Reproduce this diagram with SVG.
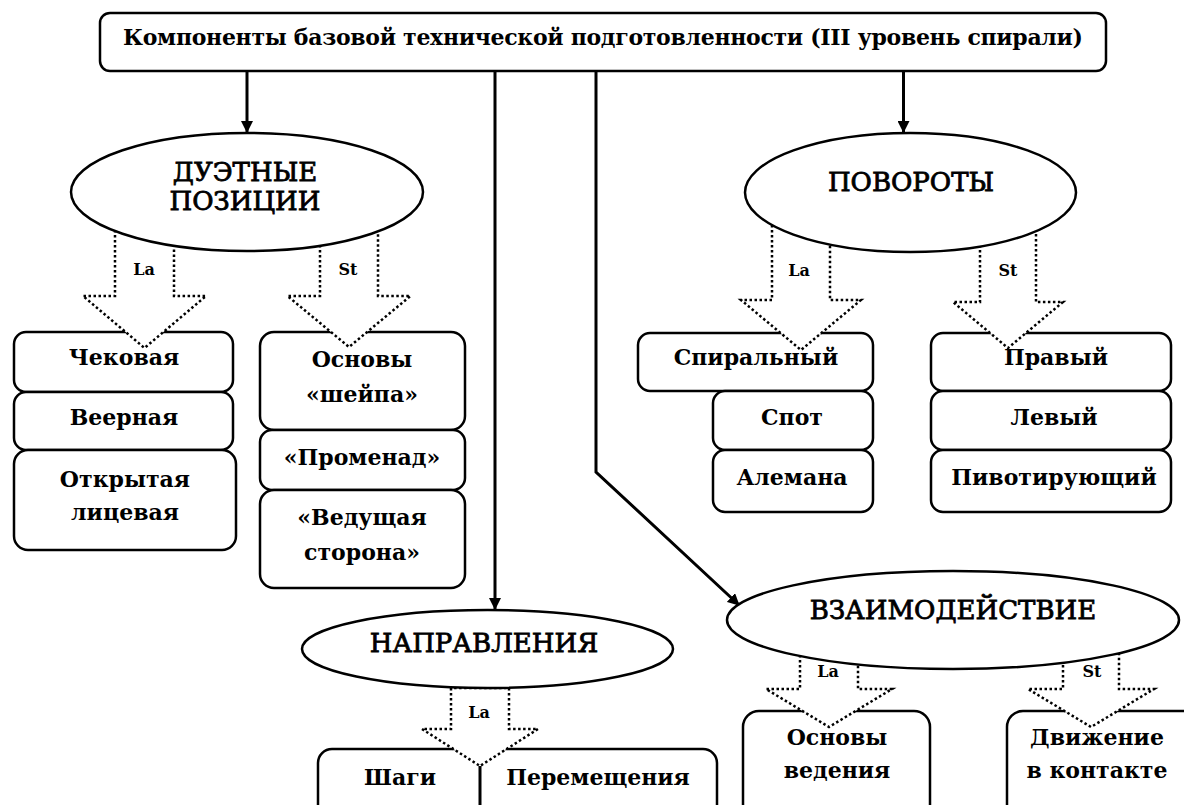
<svg xmlns="http://www.w3.org/2000/svg" width="1184" height="805" viewBox="0 0 1184 805">
<defs>
<marker id="ah" viewBox="0 0 12 12" refX="11" refY="6" markerWidth="12" markerHeight="12" markerUnits="userSpaceOnUse" orient="auto">
<path d="M0,0 L12,6 L0,12 Z" fill="#000"/>
</marker>
</defs>
<style>
.box{fill:#fff;stroke:#000;stroke-width:2.5}
.ell{fill:#fff;stroke:#000;stroke-width:2.5}
.con{fill:none;stroke:#000;stroke-width:3}
.dot{fill:#fff;stroke:#000;stroke-width:2.5;stroke-dasharray:2.5 2.5}
.t{font-family:"DejaVu Serif","Liberation Serif",serif;font-weight:bold;font-size:22px;text-anchor:middle;fill:#000}
.e{font-family:"DejaVu Serif","Liberation Serif",serif;font-size:26px;text-anchor:middle;fill:#000;stroke:#000;stroke-width:0.8}
.l{font-family:"DejaVu Serif","Liberation Serif",serif;font-weight:bold;font-size:16px;text-anchor:middle;fill:#000}
</style>
<rect width="1184" height="805" fill="#fff"/>

<g id="connectors">
<line class="con" x1="247" y1="71" x2="247" y2="132" marker-end="url(#ah)"/>
<line class="con" x1="495" y1="71" x2="495" y2="609" marker-end="url(#ah)"/>
<polyline class="con" points="596,71 596,472 739,605" marker-end="url(#ah)"/>
<line class="con" x1="903.5" y1="71" x2="903.5" y2="132" marker-end="url(#ah)"/>
</g>

<g id="title">
<rect class="box" x="100" y="13" width="1006" height="58" rx="10"/>
<text class="t" x="603" y="45" font-size="21" textLength="960" lengthAdjust="spacing">Компоненты базовой технической подготовленности (III уровень спирали)</text>
</g>

<g id="box-chekovaya"><rect class="box" x="14" y="332" width="219" height="60" rx="12"/></g>
<g id="box-veernaya"><rect class="box" x="14" y="392" width="219" height="58" rx="12"/></g>
<g id="box-otkrytaya"><rect class="box" x="14" y="450" width="222" height="100" rx="14"/></g>
<g id="box-osnovy-sheipa"><rect class="box" x="260" y="332" width="205" height="98" rx="14"/></g>
<g id="box-promenad"><rect class="box" x="260" y="430" width="205" height="60" rx="12"/></g>
<g id="box-vedushchaya"><rect class="box" x="260" y="490" width="205" height="98" rx="14"/></g>
<g id="box-spiralny"><rect class="box" x="638" y="333" width="235" height="58" rx="12"/></g>
<g id="box-spot"><rect class="box" x="713" y="391" width="160" height="59" rx="12"/></g>
<g id="box-alemana"><rect class="box" x="713" y="450" width="160" height="62" rx="12"/></g>
<g id="box-pravy"><rect class="box" x="931" y="333" width="240" height="58" rx="12"/></g>
<g id="box-levy"><rect class="box" x="931" y="391" width="240" height="59" rx="12"/></g>
<g id="box-pivot"><rect class="box" x="931" y="450" width="240" height="62" rx="12"/></g>
<g id="box-shagi"><rect class="box" x="318" y="749" width="399" height="90" rx="14"/></g>
<g id="box-osnovy-vedeniya"><rect class="box" x="743" y="711" width="187" height="120" rx="16"/></g>
<g id="box-dvizhenie"><rect class="box" x="1007" y="711" width="200" height="120" rx="16"/></g>

<g id="hollow-arrows">
<path class="dot" d="M115,200 L115,296 L83,296 L144.5,348 L206,296 L174,296 L174,200 Z"/>
<path class="dot" d="M320,200 L320,296 L287.5,296 L349,347 L410.5,296 L378,296 L378,200 Z"/>
<path class="dot" d="M772,200 L772,300 L741,300 L801,350 L861,300 L830,300 L830,200 Z"/>
<path class="dot" d="M980,200 L980,302 L953,302 L1008,348 L1063,302 L1036,302 L1036,200 Z"/>
<path class="dot" d="M451,688 L451,729 L422,729 L480,766 L538,729 L509,729 L509,688 Z"/>
<path class="dot" d="M800,640 L800,689 L766,689 L829,727 L892,689 L858,689 L858,640 Z"/>
<path class="dot" d="M1063,640 L1063,689 L1028,689 L1091,727 L1154,689 L1119,689 L1119,640 Z"/>
</g>
<line x1="480" y1="766" x2="480" y2="805" stroke="#000" stroke-width="3"/>

<g id="ell-duet">
<ellipse class="ell" cx="247" cy="192" rx="176" ry="59"/>
<text class="e" x="245" y="181">ДУЭТНЫЕ</text>
<text class="e" x="245" y="210">ПОЗИЦИИ</text>
</g>
<g id="ell-povoroty">
<ellipse class="ell" cx="910.5" cy="192.5" rx="165.5" ry="59.5"/>
<text class="e" x="911" y="191">ПОВОРОТЫ</text>
</g>
<g id="ell-napravleniya">
<ellipse class="ell" cx="487.5" cy="649" rx="185.5" ry="39"/>
<text class="e" x="484" y="652">НАПРАВЛЕНИЯ</text>
</g>
<g id="ell-vzaimo">
<ellipse class="ell" cx="953" cy="620" rx="226" ry="49"/>
<text class="e" x="953" y="619">ВЗАИМОДЕЙСТВИЕ</text>
</g>

<g id="labels">
<text class="l" x="144" y="275">La</text>
<text class="l" x="348" y="275">St</text>
<text class="l" x="799" y="276">La</text>
<text class="l" x="1008" y="276">St</text>
<text class="l" x="479" y="718">La</text>
<text class="l" x="828" y="677">La</text>
<text class="l" x="1092" y="677">St</text>
</g>

<g id="box-texts">
<text class="t" x="124" y="365">Чековая</text>
<text class="t" x="124" y="425">Веерная</text>
<text class="t" x="125" y="487">Открытая</text>
<text class="t" x="125" y="520">лицевая</text>
<text class="t" x="362" y="367">Основы</text>
<text class="t" x="362" y="402">«шейпа»</text>
<text class="t" x="362" y="465">«Променад»</text>
<text class="t" x="362" y="525">«Ведущая</text>
<text class="t" x="362" y="560">сторона»</text>
<text class="t" x="756" y="365">Спиральный</text>
<text class="t" x="792" y="425">Спот</text>
<text class="t" x="792" y="485">Алемана</text>
<text class="t" x="1056" y="365">Правый</text>
<text class="t" x="1054" y="425">Левый</text>
<text class="t" x="1054" y="485">Пивотирующий</text>
<text class="t" x="400" y="785">Шаги</text>
<text class="t" x="598" y="785">Перемещения</text>
<text class="t" x="837" y="745">Основы</text>
<text class="t" x="837" y="778">ведения</text>
<text class="t" x="1097" y="745">Движение</text>
<text class="t" x="1097" y="778">в контакте</text>
</g>
</svg>
